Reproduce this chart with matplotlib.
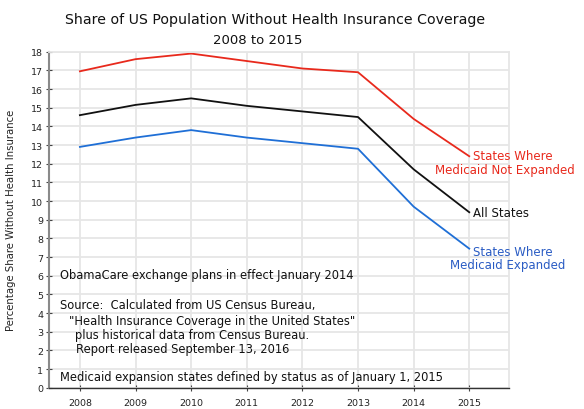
import matplotlib
matplotlib.use("Agg")
from matplotlib import pyplot as plt

# Data
years = [2008, 2009, 2010, 2011, 2012, 2013, 2014, 2015]
not_expanded = [16.95, 17.6, 17.9, 17.5, 17.1, 16.9, 14.4, 12.4]
all_states = [14.6, 15.15, 15.5, 15.1, 14.8, 14.5, 11.7, 9.4]
expanded = [12.9, 13.4, 13.8, 13.4, 13.1, 12.8, 9.7, 7.45]
yticks = list(range(0, 19))

RED = '#e8291c'
BLACK = '#111111'
BLUE = '#1f6fd6'
BLUE_TXT = '#2a5cc4'
GRID = '#e6e6e6'

plt.rcParams['font.family'] = ['DejaVu Sans']

fig = plt.figure(figsize=(5.84, 4.10), dpi=100)
ax = fig.add_axes([49.3/584, 1-388.7/410, (509.3-49.3)/584, (388.7-52.7)/410])

ax.plot(years, not_expanded, color=RED, lw=1.3, clip_on=False)
ax.plot(years, all_states, color=BLACK, lw=1.3, clip_on=False)
ax.plot(years, expanded, color=BLUE, lw=1.3, clip_on=False)

ax.set_xlim(2007.45, 2015.72)
ax.set_ylim(0, 18)
ax.set_xticks(years)
ax.set_yticks(yticks)
ax.grid(True, color=GRID, lw=1.3)
ax.set_axisbelow(True)

for s in ['top', 'right']:
    ax.spines[s].set_color(GRID)
    ax.spines[s].set_linewidth(1.3)
ax.spines['left'].set_color('#8a8a8a')
ax.spines['left'].set_linewidth(1.5)
ax.spines['bottom'].set_color('#333333')
ax.spines['bottom'].set_linewidth(1.0)
ax.tick_params(axis='both', direction='inout', length=4.5, width=0.8,
               color='#444444', labelsize=6.8, labelcolor='#222222')
ax.tick_params(axis='x', pad=5)
ax.tick_params(axis='y', pad=2)

ax.set_ylabel('Percentage Share Without Health Insurance', fontsize=7.3, color='#222222', labelpad=11)

# Title
fig.text(275/584, 1-20/410, 'Share of US Population Without Health Insurance Coverage',
         ha='center', va='center', fontsize=10.2, color='#111111')
fig.text(258/584, 1-40/410, '2008 to 2015', ha='center', va='center',
         fontsize=9.5, color='#111111')

# Series labels at the ends
def px(x, y, s, size=8.5, **kw):
    fig.text(x/584, 1-y/410, s, va='center', fontsize=size, **kw)

px(473, 157, 'States Where', color=RED, ha='left')
px(505, 171, 'Medicaid Not Expanded', color=RED, ha='center')
px(473, 214, 'All States', color=BLACK, ha='left')
px(473, 253, 'States Where', color=BLUE_TXT, ha='left')
px(508, 266, 'Medicaid Expanded', color=BLUE_TXT, ha='center')

# Notes inside the plot
px(60.4, 276, 'ObamaCare exchange plans in effect January 2014', size=8.3, color='#111111')
px(60.4, 306, 'Source:  Calculated from US Census Bureau,', size=8.3, color='#111111')
px(68.9, 322, '"Health Insurance Coverage in the United States"', size=8.3, color='#111111')
px(75.2, 336, 'plus historical data from Census Bureau.', size=8.3, color='#111111')
px(76, 350, 'Report released September 13, 2016', size=8.3, color='#111111')
px(60.4, 378, 'Medicaid expansion states defined by status as of January 1, 2015', size=8.3, color='#111111')

fig.savefig('out.png', dpi=100)
